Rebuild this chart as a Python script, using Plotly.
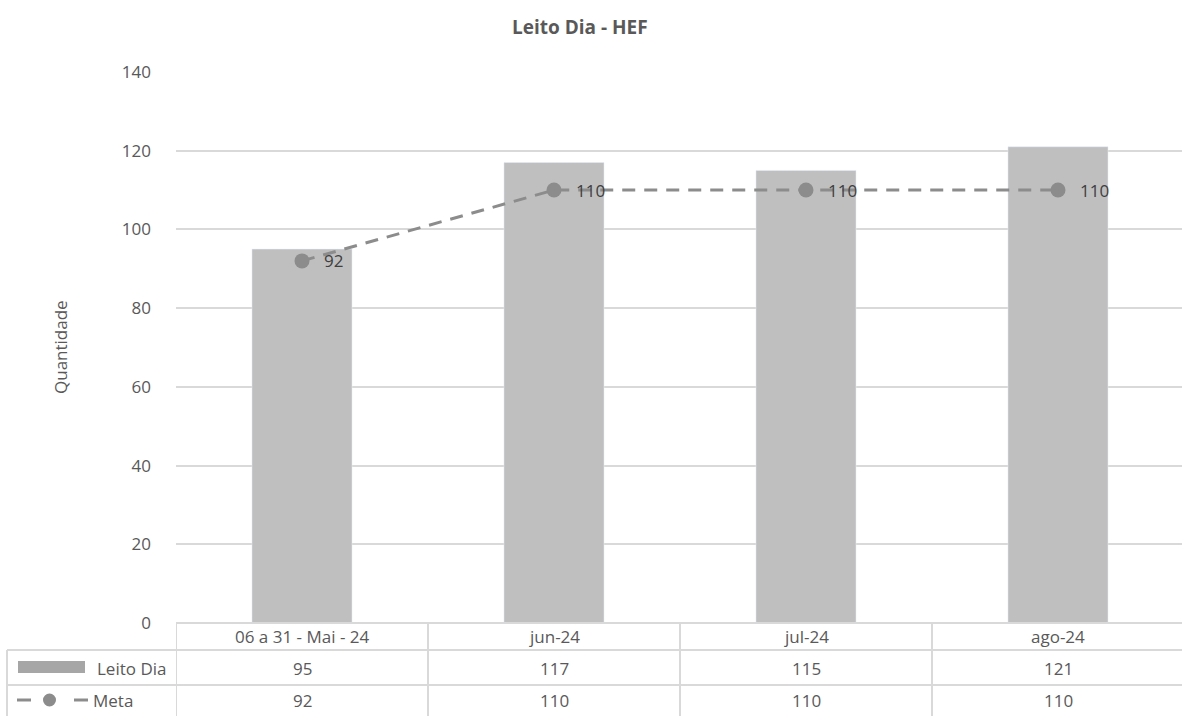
import plotly.graph_objects as go

categories = ["06 a 31 - Mai - 24", "jun-24", "jul-24", "ago-24"]
leito_dia = [95, 117, 115, 121]
meta = [92, 110, 110, 110]
y_ticks = [0, 20, 40, 60, 80, 100, 120, 140]

W, H = 1182, 716
L, R, T, B = 176, 0, 72, 93
PW, PH = W - L - R, H - T - B

def px(x):
    return (x - L) / PW

def py(y):
    return (H - B - y) / PH

FONT = "Open Sans"
TXT = "#404040"
AX = "#595959"
GRID = "#d9d9d9"
FS = 17

fig = go.Figure()
xs = list(range(len(categories)))
fig.add_trace(go.Bar(x=xs, y=leito_dia, name="Leito Dia",
                     marker_color="#bfbfbf", width=0.397))
fig.add_trace(go.Scatter(x=xs, y=meta, name="Meta",
                         mode="lines+markers",
                         line=dict(color="#8c8c8c", width=3, dash="13px,9px"),
                         marker=dict(color="#8c8c8c", size=15)))

shapes = []
lc = dict(color=GRID, width=2)
shapes.append(dict(type="line", xref="paper", yref="paper", x0=px(176), x1=1.01, y0=py(623), y1=py(623), line=lc))
for yy in (650, 685):
    shapes.append(dict(type="line", xref="paper", yref="paper", x0=px(7), x1=1.01, y0=py(yy), y1=py(yy), line=lc))
shapes.append(dict(type="line", xref="paper", yref="paper", x0=px(7), x1=px(7), y0=py(650), y1=py(720), line=lc))
for i in range(len(categories)):
    xb = i - 0.5
    shapes.append(dict(type="line", xref="x", yref="paper", x0=xb, x1=xb, y0=py(623), y1=py(720), line=lc))
shapes.append(dict(type="rect", xref="paper", yref="paper", x0=px(18), x1=px(85), y0=py(673), y1=py(661),
                   fillcolor="#a6a6a6", line=dict(width=0)))
for a, b in ((17, 31), (74, 88)):
    shapes.append(dict(type="line", xref="paper", yref="paper", x0=px(a), x1=px(b), y0=py(700), y1=py(700),
                       line=dict(color="#8c8c8c", width=3)))
shapes.append(dict(type="circle", xref="paper", yref="paper", x0=px(43), x1=px(56), y0=py(706.5), y1=py(693.5),
                   fillcolor="#8c8c8c", line=dict(width=0)))

ann = []
ann.append(dict(text="<b>Leito Dia - HEF</b>", xref="paper", yref="paper", x=px(580), y=py(27),
                showarrow=False, font=dict(size=19, color=AX, family=FONT), xanchor="center", yanchor="middle"))
ann.append(dict(text="Quantidade", xref="paper", yref="paper", x=px(60), y=py(347), textangle=-90,
                showarrow=False, font=dict(size=FS, color=AX, family=FONT), xanchor="center", yanchor="middle"))
for i, c in enumerate(categories):
    ann.append(dict(text=str(meta[i]), xref="x", yref="y", x=i, y=meta[i], xshift=20, showarrow=False,
                    font=dict(size=FS, color=TXT, family=FONT), xanchor="left", yanchor="middle"))
    ann.append(dict(text=c, xref="x", yref="paper", x=i, y=py(636.5), showarrow=False,
                    font=dict(size=FS, color=AX, family=FONT), xanchor="center", yanchor="middle"))
    ann.append(dict(text=str(leito_dia[i]), xref="x", yref="paper", x=i, y=py(668), showarrow=False,
                    font=dict(size=FS, color=AX, family=FONT), xanchor="center", yanchor="middle"))
    ann.append(dict(text=str(meta[i]), xref="x", yref="paper", x=i, y=py(700), showarrow=False,
                    font=dict(size=FS, color=AX, family=FONT), xanchor="center", yanchor="middle"))
ann.append(dict(text="Leito Dia", xref="paper", yref="paper", x=px(169), y=py(668), showarrow=False,
                font=dict(size=FS, color=AX, family=FONT), xanchor="right", yanchor="middle"))
ann.append(dict(text="Meta", xref="paper", yref="paper", x=px(91), y=py(700), showarrow=False,
                font=dict(size=FS, color=AX, family=FONT), xanchor="left", yanchor="middle"))

fig.update_layout(
    width=W, height=H, margin=dict(l=L, r=R, t=T, b=B),
    paper_bgcolor="white", plot_bgcolor="white", showlegend=False,
    font=dict(family=FONT, color=AX, size=FS),
    shapes=shapes, annotations=ann,
    xaxis=dict(range=[-0.5, -0.5 + PW / 252], showticklabels=False, showgrid=False, zeroline=False,
               showline=False, fixedrange=True),
    yaxis=dict(range=[0, 140], tickvals=y_ticks, showgrid=True, gridcolor=GRID, gridwidth=1.5,
               zeroline=False, showline=False, ticklabelstandoff=24,
               tickfont=dict(size=FS, color=AX, family=FONT)),
)

fig.write_html("out.html", config={"displayModeBar": False})
with open("out.html", "r", encoding="utf-8") as f:
    html = f.read()
html = html.replace("<head>", "<head><style>html,body{margin:0;padding:0;overflow:hidden;}</style>", 1)
with open("out.html", "w", encoding="utf-8") as f:
    f.write(html)
